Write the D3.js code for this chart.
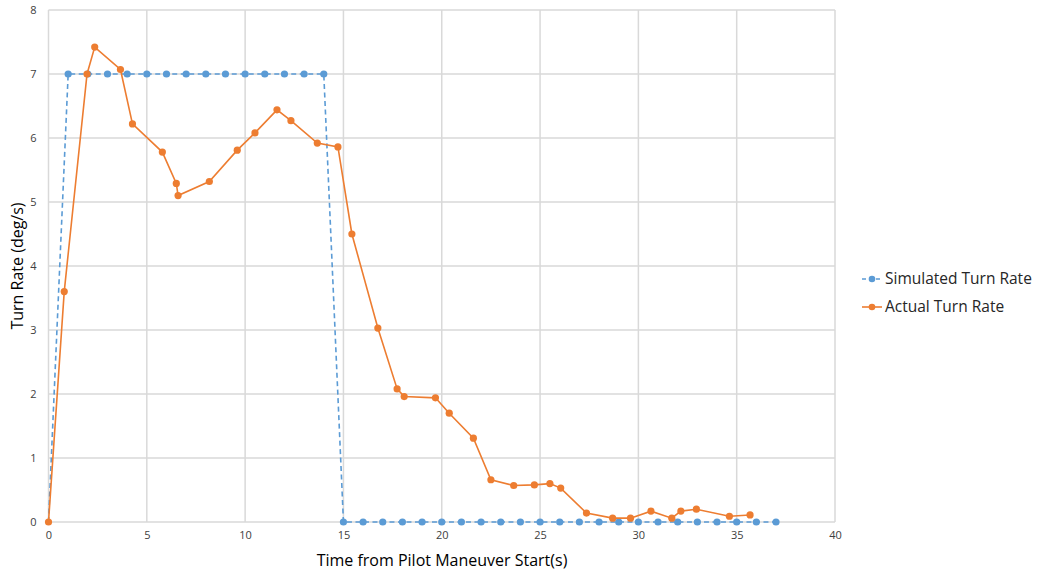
<!DOCTYPE html>
<html>
<head>
<meta charset="utf-8">
<script src="https://cdn.jsdelivr.net/npm/d3@7"></script>
<style>
  html, body { margin: 0; padding: 0; background: #fff; }
  text { font-family: 'Open Sans', 'Liberation Sans', sans-serif; }
</style>
</head>
<body>
<div id="chart"></div>
<script>
// simulated turn rate (deg/s) vs time (s)
const simTime = [0, 1, 2, 3, 4, 5, 6, 7, 8, 9, 10, 11, 12, 13, 14, 15, 16, 17, 18, 19, 20, 21, 22, 23, 24, 25, 26, 27, 28, 29, 30, 31, 32, 33, 34, 35, 36, 37]
const simRate = [0, 7, 7, 7, 7, 7, 7, 7, 7, 7, 7, 7, 7, 7, 7, 0, 0, 0, 0, 0, 0, 0, 0, 0, 0, 0, 0, 0, 0, 0, 0, 0, 0, 0, 0, 0, 0, 0]

// actual turn rate
const actTime = [0, 0.8, 1.96, 2.35, 3.66, 4.27, 5.79, 6.5, 6.59, 8.18, 9.6, 10.5, 11.62, 12.33, 13.67, 14.72,
  15.43, 16.75, 17.73, 18.09, 19.68, 20.38, 21.61, 22.5, 23.66, 24.71, 25.5, 26.05, 27.36, 28.69, 29.6,
  30.64, 31.7, 32.16, 32.95, 34.63, 35.68]
const actRate = [0, 3.6, 7.0, 7.42, 7.07, 6.22, 5.78, 5.29, 5.1, 5.32, 5.81, 6.08, 6.44, 6.27, 5.92, 5.86,
  4.5, 3.03, 2.08, 1.96, 1.94, 1.7, 1.31, 0.66, 0.57, 0.58, 0.6, 0.53, 0.14, 0.06, 0.06,
  0.17, 0.06, 0.17, 0.2, 0.09, 0.11]

const xTicks = [0, 5, 10, 15, 20, 25, 30, 35, 40]
const yTicks = [0, 1, 2, 3, 4, 5, 6, 7, 8]

const width = 1057
const height = 573
const margin = { top: 10, right: 222, bottom: 51, left: 48.5 }
const blue = '#5b9bd5'
const orange = '#ed7d31'

const svg = d3.select('#chart').append('svg').attr('width', width).attr('height', height)

const xScale = d3.scaleLinear().domain([0, 40]).range([margin.left, width - margin.right])
const yScale = d3.scaleLinear().domain([0, 8]).range([height - margin.bottom, margin.top])

// grid
svg.append('g')
  .selectAll('line.vg')
  .data(xTicks)
  .join('line')
  .attr('x1', (d) => xScale(d))
  .attr('x2', (d) => xScale(d))
  .attr('y1', margin.top)
  .attr('y2', height - margin.bottom)
  .attr('stroke', '#d9d9d9')
  .attr('stroke-width', 1.5)

svg.append('g')
  .selectAll('line.hg')
  .data(yTicks)
  .join('line')
  .attr('x1', margin.left)
  .attr('x2', width - margin.right)
  .attr('y1', (d) => yScale(d))
  .attr('y2', (d) => yScale(d))
  .attr('stroke', '#d9d9d9')
  .attr('stroke-width', 1.5)

// axes (labels only)
svg.append('g')
  .attr('transform', `translate(0,${height - margin.bottom})`)
  .call(d3.axisBottom(xScale).tickValues(xTicks).tickSize(0).tickPadding(9))
  .call((g) => {
    g.select('.domain').remove()
    g.selectAll('.tick text').attr('fill', '#404040').attr('font-size', '11px')
      .style('font-family', "'Open Sans', sans-serif")
  })

svg.append('g')
  .attr('transform', `translate(${margin.left},0)`)
  .call(d3.axisLeft(yScale).tickValues(yTicks).tickSize(0).tickPadding(12))
  .call((g) => {
    g.select('.domain').remove()
    g.selectAll('.tick text').attr('fill', '#404040').attr('font-size', '11px')
      .style('font-family', "'Open Sans', sans-serif")
  })

// axis titles
svg.append('text')
  .attr('x', 442)
  .attr('y', 566)
  .attr('text-anchor', 'middle')
  .attr('font-size', '16px')
  .attr('fill', '#000')
  .text('Time from Pilot Maneuver Start(s)')

svg.append('text')
  .attr('transform', `translate(23,${yScale(4)}) rotate(-90)`)
  .attr('text-anchor', 'middle')
  .attr('font-size', '16px')
  .attr('fill', '#000')
  .text('Turn Rate (deg/s)')

// series
const simData = simTime.map((t, i) => ({ x: t, y: simRate[i] }))
const actData = actTime.map((t, i) => ({ x: t, y: actRate[i] }))

const line = d3.line().x((d) => xScale(d.x)).y((d) => yScale(d.y))

svg.append('path')
  .datum(simData)
  .attr('d', line)
  .attr('fill', 'none')
  .attr('stroke', blue)
  .attr('stroke-width', 1.6)
  .attr('stroke-dasharray', '5,3.5')

svg.append('g')
  .selectAll('circle')
  .data(simData.slice(1))
  .join('circle')
  .attr('cx', (d) => xScale(d.x))
  .attr('cy', (d) => yScale(d.y))
  .attr('r', 3.6)
  .attr('fill', blue)

svg.append('path')
  .datum(actData)
  .attr('d', line)
  .attr('fill', 'none')
  .attr('stroke', orange)
  .attr('stroke-width', 1.6)

svg.append('g')
  .selectAll('circle')
  .data(actData)
  .join('circle')
  .attr('cx', (d) => xScale(d.x))
  .attr('cy', (d) => yScale(d.y))
  .attr('r', 3.6)
  .attr('fill', orange)

// legend
const legend = svg.append('g').attr('transform', 'translate(862,0)')
const legendItems = [
  { name: 'Simulated Turn Rate', color: blue, dash: '4,3', y: 279 },
  { name: 'Actual Turn Rate', color: orange, dash: null, y: 307 }
]
legendItems.forEach((it) => {
  legend.append('line')
    .attr('x1', 0).attr('x2', 20)
    .attr('y1', it.y).attr('y2', it.y)
    .attr('stroke', it.color)
    .attr('stroke-width', 1.6)
    .attr('stroke-dasharray', it.dash)
  legend.append('circle').attr('cx', 10).attr('cy', it.y).attr('r', 3.3).attr('fill', it.color)
  legend.append('text')
    .attr('x', 23)
    .attr('y', it.y)
    .attr('dy', '0.35em')
    .attr('font-size', '15.5px')
    .attr('fill', '#262626')
    .text(it.name)
})
</script>
</body>
</html>
